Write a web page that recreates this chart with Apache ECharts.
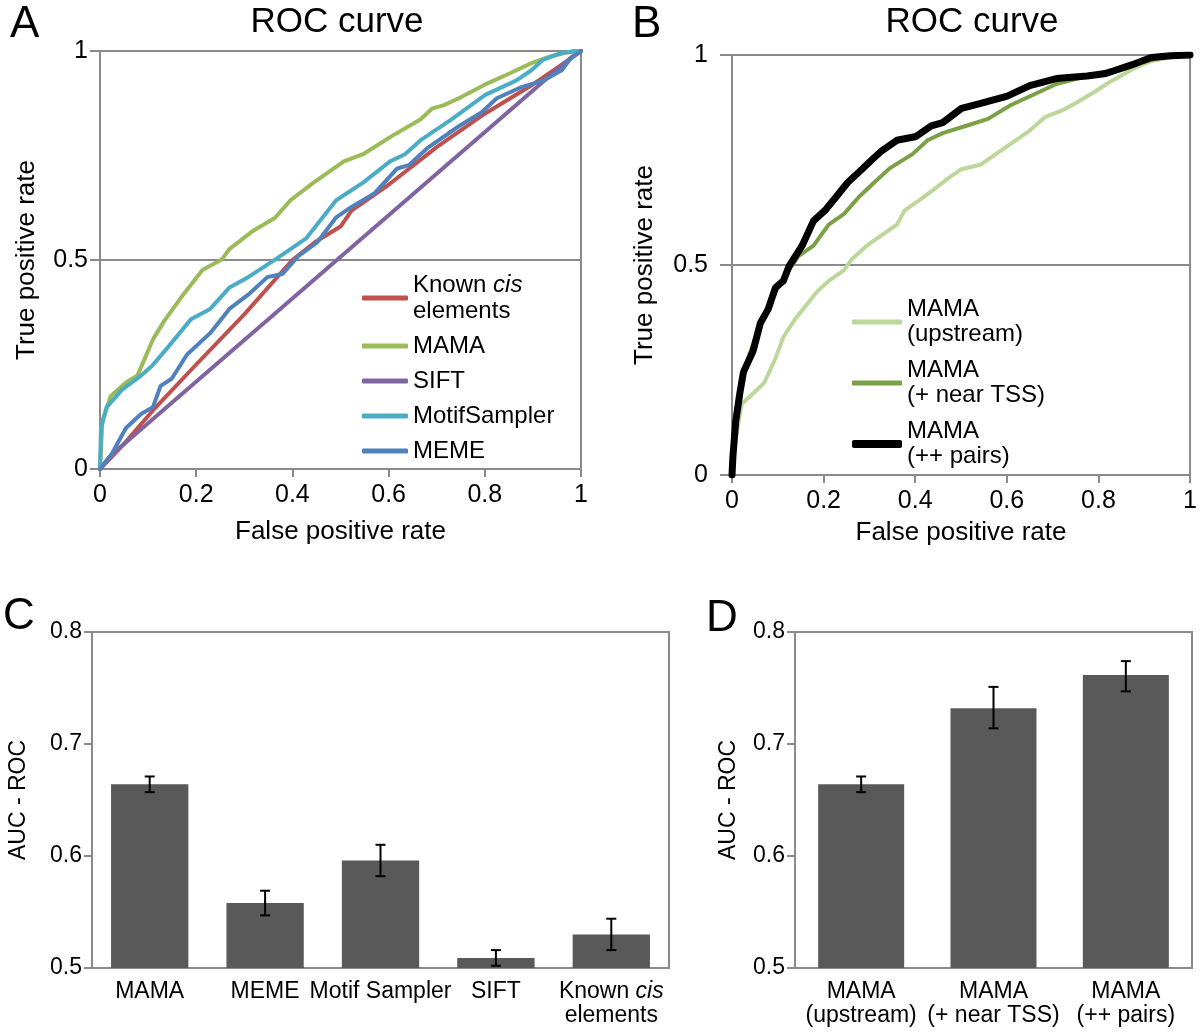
<!DOCTYPE html>
<html>
<head>
<meta charset="utf-8">
<script src="https://cdn.jsdelivr.net/npm/echarts@6/dist/echarts.min.js"></script>
<style>
  html, body { margin: 0; padding: 0; background: #fff; }
  #chart { width: 1200px; height: 1033px; }
</style>
</head>
<body>
<div id="chart"></div>
<script>
// ---- data ----
// panel A: ROC curves, [false positive rate, true positive rate]
var knownCisA = [[0,0],[0.05,0.06],[0.11,0.14],[0.2,0.25],[0.3,0.37],[0.4,0.5],[0.45,0.545],[0.5,0.58],[0.523,0.618],[0.6,0.68],[0.7,0.77],[0.8,0.85],[0.9,0.92],[0.97,0.975],[1,1]];
var mamaA = [[0,0],[0.005,0.115],[0.022,0.174],[0.054,0.207],[0.078,0.224],[0.11,0.31],[0.134,0.355],[0.173,0.417],[0.213,0.476],[0.253,0.501],[0.269,0.526],[0.316,0.568],[0.364,0.601],[0.396,0.643],[0.444,0.685],[0.507,0.736],[0.547,0.753],[0.603,0.794],[0.666,0.836],[0.69,0.862],[0.714,0.87],[0.746,0.887],[0.801,0.92],[0.849,0.945],[0.897,0.971],[0.936,0.987],[0.984,1],[1,1]];
var siftA = [[0,0],[0.02,0.03],[0.98,0.985],[1,1]];
var motifA = [[0,0],[0.002,0.098],[0.014,0.148],[0.046,0.19],[0.086,0.224],[0.11,0.249],[0.141,0.291],[0.189,0.358],[0.229,0.383],[0.269,0.434],[0.308,0.459],[0.364,0.501],[0.428,0.551],[0.491,0.643],[0.547,0.685],[0.603,0.736],[0.634,0.753],[0.666,0.786],[0.73,0.836],[0.801,0.895],[0.865,0.929],[0.897,0.954],[0.921,0.979],[0.96,0.996],[1,1]];
var memeA = [[0,0],[0.022,0.031],[0.054,0.098],[0.086,0.132],[0.11,0.148],[0.126,0.199],[0.149,0.216],[0.181,0.274],[0.229,0.325],[0.269,0.383],[0.308,0.417],[0.348,0.459],[0.38,0.467],[0.412,0.509],[0.452,0.543],[0.491,0.602],[0.523,0.627],[0.571,0.66],[0.618,0.719],[0.642,0.727],[0.682,0.769],[0.746,0.82],[0.793,0.853],[0.825,0.887],[0.873,0.912],[0.921,0.929],[0.96,0.954],[0.976,0.979],[1,1]];

// panel B: ROC curves
var upstreamB = [[0,0],[0.008,0.085],[0.021,0.169],[0.046,0.194],[0.07,0.219],[0.095,0.278],[0.112,0.328],[0.137,0.37],[0.162,0.404],[0.186,0.437],[0.211,0.462],[0.244,0.487],[0.261,0.513],[0.294,0.546],[0.327,0.571],[0.36,0.596],[0.377,0.63],[0.41,0.655],[0.443,0.682],[0.476,0.71],[0.501,0.728],[0.543,0.739],[0.576,0.764],[0.609,0.789],[0.65,0.82],[0.683,0.852],[0.725,0.87],[0.75,0.885],[0.791,0.912],[0.824,0.935],[0.874,0.966],[0.915,0.986],[0.957,0.994],[1,1]];
var nearTssB = [[0,0],[0.008,0.127],[0.025,0.245],[0.062,0.362],[0.095,0.437],[0.124,0.487],[0.145,0.521],[0.178,0.546],[0.211,0.596],[0.244,0.621],[0.278,0.663],[0.311,0.697],[0.344,0.73],[0.394,0.764],[0.427,0.797],[0.46,0.814],[0.51,0.831],[0.559,0.848],[0.609,0.881],[0.659,0.906],[0.708,0.931],[0.775,0.95],[0.833,0.965],[0.891,0.982],[0.94,0.994],[1,1]];
var pairsB = [[0,0],[0.002,0.044],[0.008,0.127],[0.017,0.194],[0.025,0.245],[0.046,0.295],[0.062,0.362],[0.079,0.395],[0.095,0.446],[0.112,0.462],[0.124,0.496],[0.153,0.546],[0.178,0.605],[0.203,0.63],[0.228,0.663],[0.253,0.697],[0.278,0.722],[0.302,0.747],[0.327,0.772],[0.36,0.797],[0.402,0.806],[0.435,0.831],[0.46,0.839],[0.501,0.873],[0.543,0.885],[0.601,0.902],[0.65,0.927],[0.708,0.944],[0.775,0.95],[0.816,0.956],[0.874,0.977],[0.915,0.994],[0.957,0.998],[1,1]];

// panel C: AUC-ROC bars with error bars
var methodsC = ['MAMA', 'MEME', 'Motif Sampler', 'SIFT', 'Known cis elements'];
var aucC = [0.664, 0.558, 0.596, 0.509, 0.530];
var aucLowC = [0.657, 0.547, 0.582, 0.502, 0.516];
var aucHighC = [0.671, 0.569, 0.610, 0.516, 0.544];

// panel D
var methodsD = ['MAMA (upstream)', 'MAMA (+ near TSS)', 'MAMA (++ pairs)'];
var aucD = [0.664, 0.732, 0.7615];
var aucLowD = [0.657, 0.714, 0.747];
var aucHighD = [0.671, 0.751, 0.774];

var rocTicks = [0, 0.2, 0.4, 0.6, 0.8, 1];

// ---- styling ----
var FONT = '"Liberation Sans", Arial, Helvetica, sans-serif';
var GRAY = '#8a8a8a';
var chart = echarts.init(document.getElementById('chart'));

function errData(lo, hi) {
    return lo.map(function (v, i) { return [i, v, hi[i]]; });
}
function renderErr(params, api) {
    var lo = api.coord([api.value(0), api.value(1)]);
    var hi = api.coord([api.value(0), api.value(2)]);
    var hw = 5;
    var st = { stroke: '#000', lineWidth: 2 };
    return {
        type: 'group',
        children: [
            { type: 'line', shape: { x1: lo[0], y1: lo[1], x2: hi[0], y2: hi[1] }, style: st },
            { type: 'line', shape: { x1: lo[0] - hw, y1: lo[1], x2: lo[0] + hw, y2: lo[1] }, style: st },
            { type: 'line', shape: { x1: hi[0] - hw, y1: hi[1], x2: hi[0] + hw, y2: hi[1] }, style: st }
        ]
    };
}
function rocX(idx, gap) {
    return {
        type: 'value', gridIndex: idx, min: 0, max: 1, interval: 0.2,
        name: 'False positive rate', nameLocation: 'middle', nameGap: gap,
        nameTextStyle: { fontFamily: FONT, fontSize: 26, color: '#000' },
        axisLine: { show: true, lineStyle: { color: GRAY, width: 2 } },
        axisTick: { show: true, length: 8, lineStyle: { color: GRAY, width: 2 } },
        axisLabel: { fontFamily: FONT, fontSize: 25, color: '#000', margin: 14,
            formatter: function (v) { return rocTicks.indexOf(+v.toFixed(1)) >= 0 ? String(+v.toFixed(1)) : ''; } },
        splitLine: { show: false }
    };
}
function rocY(idx, gap, labelGap, tickLen) {
    return {
        type: 'value', gridIndex: idx, min: 0, max: 1, interval: 0.5,
        name: 'True positive rate', nameLocation: 'middle', nameGap: gap,
        nameTextStyle: { fontFamily: FONT, fontSize: 26, color: '#000' },
        axisLine: { show: true, lineStyle: { color: GRAY, width: 2 } },
        axisTick: { show: true, length: tickLen, lineStyle: { color: GRAY, width: 2 } },
        axisLabel: { fontFamily: FONT, fontSize: 25, color: '#000', margin: labelGap },
        splitLine: { show: true, lineStyle: { color: GRAY, width: 2 } }
    };
}
function aucY(idx, gap) {
    return {
        type: 'value', gridIndex: idx, min: 0.5, max: 0.8, interval: 0.1,
        name: 'AUC - ROC', nameLocation: 'middle', nameGap: gap,
        nameTextStyle: { fontFamily: FONT, fontSize: 23, color: '#000' },
        axisLine: { show: true, lineStyle: { color: GRAY, width: 2 } },
        axisTick: { show: true, length: 8, lineStyle: { color: GRAY, width: 2 } },
        axisLabel: { fontFamily: FONT, fontSize: 23, color: '#000', margin: 10,
            formatter: function (v) { return v.toFixed(1); } },
        splitLine: { show: false }
    };
}
function catX(idx, cats, fmt) {
    return {
        type: 'category', gridIndex: idx, data: cats,
        axisLine: { show: true, lineStyle: { color: GRAY, width: 2 } },
        axisTick: { show: false },
        axisLabel: { interval: 0, fontFamily: FONT, fontSize: 23, lineHeight: 24, color: '#000', margin: 12,
            formatter: fmt,
            rich: { i: { fontFamily: FONT, fontSize: 23, lineHeight: 24, fontStyle: 'italic', color: '#000' } } }
    };
}
function rocLine(name, data, color, width, gx) {
    return {
        name: name, type: 'line', xAxisIndex: gx, yAxisIndex: gx, data: data,
        showSymbol: false, symbol: 'none', smooth: false, animation: false,
        lineStyle: { color: color, width: width, join: 'round', cap: 'round' },
        itemStyle: { color: color }
    };
}
function panelText(x, y, text, size, align) {
    return { type: 'text', x: x, y: y, style: { text: text, fontFamily: FONT, fontSize: size, fill: '#000', textAlign: align || 'left', textVerticalAlign: 'top' } };
}
function legendText(size, lh) {
    return { fontFamily: FONT, fontSize: size, lineHeight: lh, color: '#000',
        rich: { i: { fontFamily: FONT, fontSize: size, lineHeight: lh, fontStyle: 'italic', color: '#000' } } };
}

var gridBox = { show: true, borderColor: GRAY, borderWidth: 2, backgroundColor: 'transparent' };

chart.setOption({
    animation: false,
    backgroundColor: '#fff',
    graphic: [
        panelText(10, 3, 'A', 44),
        panelText(632, 3, 'B', 44),
        panelText(3, 595, 'C', 44),
        panelText(706, 597, 'D', 44),
        panelText(337, 5, 'ROC curve', 35, 'center'),
        panelText(972, 5, 'ROC curve', 35, 'center')
    ],
    grid: [
        Object.assign({ left: 100, top: 51, width: 481, height: 418 }, gridBox),
        Object.assign({ left: 732, top: 55, width: 461, height: 420 }, gridBox),
        Object.assign({ left: 92, top: 632, width: 577, height: 336 }, gridBox),
        Object.assign({ left: 795, top: 632, width: 397, height: 336 }, gridBox)
    ],
    xAxis: [
        rocX(0, 50),
        rocX(1, 45),
        catX(2, methodsC, function (v) { return v === 'Known cis elements' ? 'Known {i|cis}\nelements' : v; }),
        catX(3, methodsD, function (v) { return v.replace(' (', '\n('); })
    ],
    yAxis: [rocY(0, 60, 12, 10), rocY(1, 74, 24, 12), aucY(2, 62), aucY(3, 55)],
    legend: [{
        data: ['Known cis elements', 'MAMA', 'SIFT', 'MotifSampler', 'MEME'],
        orient: 'vertical', left: 357, top: 267, itemGap: 9,
        itemWidth: 46, itemHeight: 5, icon: 'roundRect',
        formatter: function (n) { return n === 'Known cis elements' ? 'Known {i|cis}\nelements' : n; },
        textStyle: legendText(24, 26)
    }, {
        data: ['MAMA (upstream)', 'MAMA (+ near TSS)'],
        orient: 'vertical', left: 847, top: 292, itemGap: 11,
        itemWidth: 50, itemHeight: 5, icon: 'roundRect',
        formatter: function (n) { return n.replace(' (', '\n('); },
        textStyle: legendText(24, 25)
    }, {
        data: ['MAMA (++ pairs)'],
        orient: 'vertical', left: 847, top: 414,
        itemWidth: 50, itemHeight: 8, icon: 'roundRect',
        formatter: function (n) { return n.replace(' (', '\n('); },
        textStyle: legendText(24, 25)
    }],
    series: [
        rocLine('Known cis elements', knownCisA, '#C0504D', 4, 0),
        rocLine('MAMA', mamaA, '#9BBB59', 4, 0),
        rocLine('SIFT', siftA, '#8064A2', 4, 0),
        rocLine('MotifSampler', motifA, '#4BACC6', 4, 0),
        rocLine('MEME', memeA, '#4F81BD', 4, 0),
        rocLine('MAMA (upstream)', upstreamB, '#BDD79A', 4, 1),
        rocLine('MAMA (+ near TSS)', nearTssB, '#7BA046', 4, 1),
        rocLine('MAMA (++ pairs)', pairsB, '#000000', 7, 1),
        {
            type: 'bar', xAxisIndex: 2, yAxisIndex: 2, data: aucC, barWidth: '67%',
            itemStyle: { color: '#595959' }, silent: true
        },
        {
            type: 'custom', xAxisIndex: 2, yAxisIndex: 2, data: errData(aucLowC, aucHighC),
            renderItem: renderErr, z: 5, silent: true
        },
        {
            type: 'bar', xAxisIndex: 3, yAxisIndex: 3, data: aucD, barWidth: '65%',
            itemStyle: { color: '#595959' }, silent: true
        },
        {
            type: 'custom', xAxisIndex: 3, yAxisIndex: 3, data: errData(aucLowD, aucHighD),
            renderItem: renderErr, z: 5, silent: true
        }
    ]
});
</script>
</body>
</html>
